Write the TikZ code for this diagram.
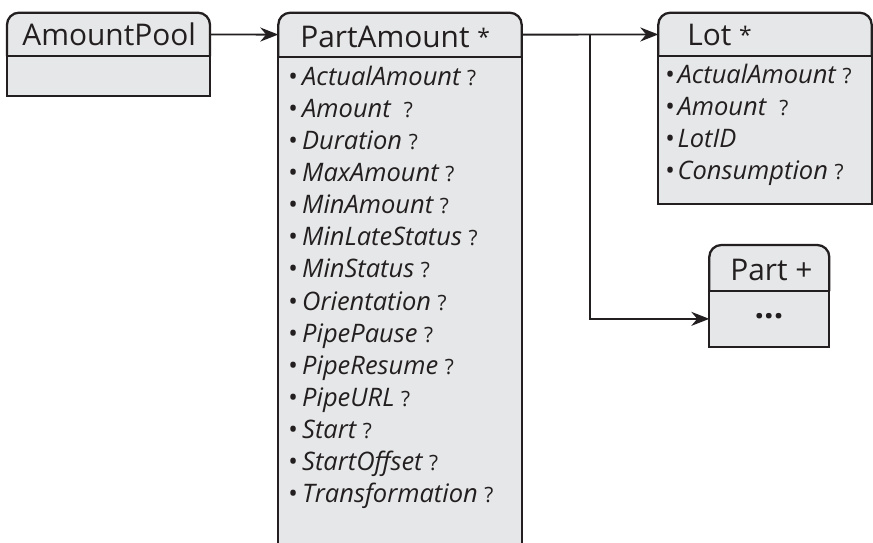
\documentclass[tikz,border=0pt]{standalone}
\usepackage{fontspec}
\setmainfont{Open Sans}
\usetikzlibrary{arrows.meta,positioning,fit,calc}
\definecolor{boxgray}{RGB}{230,231,232}
\definecolor{inkCol}{RGB}{35,31,32}
\newcommand{\opt}{{\upshape\fontsize{12}{14}\selectfont ?}}
\newcommand{\mult}[1]{{\fontsize{13}{14}\selectfont\raisebox{1pt}{#1}}}
\tikzset{
  hdr/.style={inner sep=0pt,outer sep=0pt},
  title/.style={anchor=base west,inner sep=0pt,font=\fontsize{17}{20}\selectfont,text=inkCol},
  attr/.style={anchor=base west,inner sep=0pt,font=\fontsize{14.5}{16}\selectfont,text=inkCol},
  link/.style={-{Stealth[length=3.6mm,width=2.8mm]},line width=1.1pt,draw=inkCol},
}
% frame of a class box: x1, y1, x2, y of divider, y2
\newcommand{\classframe}[5]{%
  \fill[boxgray,rounded corners=2.4mm] (#1,#2) rectangle (#3,#5);
  \fill[boxgray] (#1,#4) rectangle (#3,#5);
  \draw[inkCol,line width=1.3pt,rounded corners=2.4mm] (#1,#4) -- (#1,#2) -- (#3,#2) -- (#3,#4);
  \draw[inkCol,line width=1.3pt] (#1,#4) -- (#1,#5) -- (#3,#5) -- (#3,#4) -- cycle;
}

\begin{document}
\begin{tikzpicture}[x=0.02cm,y=-0.02cm]
  \useasboundingbox (0,0) rectangle (873,542);
  \classframe{7}{12.7}{210}{56}{96}
  \classframe{278.3}{12.7}{521.7}{56.7}{560}
  \classframe{658.3}{12.7}{871.7}{56}{204}
  \classframe{709.3}{245}{829.3}{291}{346.7}
  % header and body areas
  \node[hdr,fit={(7,12.7) (210,56)}] (pool) {};
  \node[hdr,fit={(278.3,12.7) (521.7,56.7)}] (amt) {};
  \node[hdr,fit={(658.3,12.7) (871.7,56)}] (lot) {};
  \node[hdr,fit={(709.3,291) (829.3,346.7)}] (partbody) {};
  % titles
  \node[title] (pool-t) at (22,45) {AmountPool};
  \node[title] (amt-t) at (300,47) {PartAmount \mult{*}};
  \node[title] (lot-t) at (687,45) {Lot \mult{*}};
  \node[title] (part-t) at (730,280) {Part +};
  \node[attr,anchor=center,font=\fontsize{19}{20}\selectfont\bfseries] (part-dots) at (769,316) {...};
  % attributes
  \foreach \txt [count=\i from 0] in {{ActualAmount} \opt,{Amount}\ \ \opt,{Duration} \opt,
      {MaxAmount} \opt,{MinAmount} \opt,{MinLateStatus} \opt,{MinStatus} \opt,
      {Orientation} \opt,{PipePause} \opt,{PipeResume} \opt,{PipeURL} \opt,
      {Start} \opt,{StartOffset} \opt,{Transformation} \opt}
    \node[attr] (amt-a\i) at (288,85+32.15*\i) {\textbullet\,\itshape\txt};
  \foreach \txt [count=\i from 0] in {{ActualAmount} \opt,{Amount}\ \ \opt,{LotID},
      {Consumption} \opt}
    \node[attr] (lot-a\i) at (665,83+32.3*\i) {\textbullet\hspace{1.5pt}\itshape\txt};
  % links
  \draw[link] (pool) -- (amt);
  \draw[link] (amt) -- (lot);
  \coordinate (split) at ($(amt.east)!0.5!(lot.west)$);
  \draw[link] (split) |- (partbody);
\end{tikzpicture}
\end{document}
